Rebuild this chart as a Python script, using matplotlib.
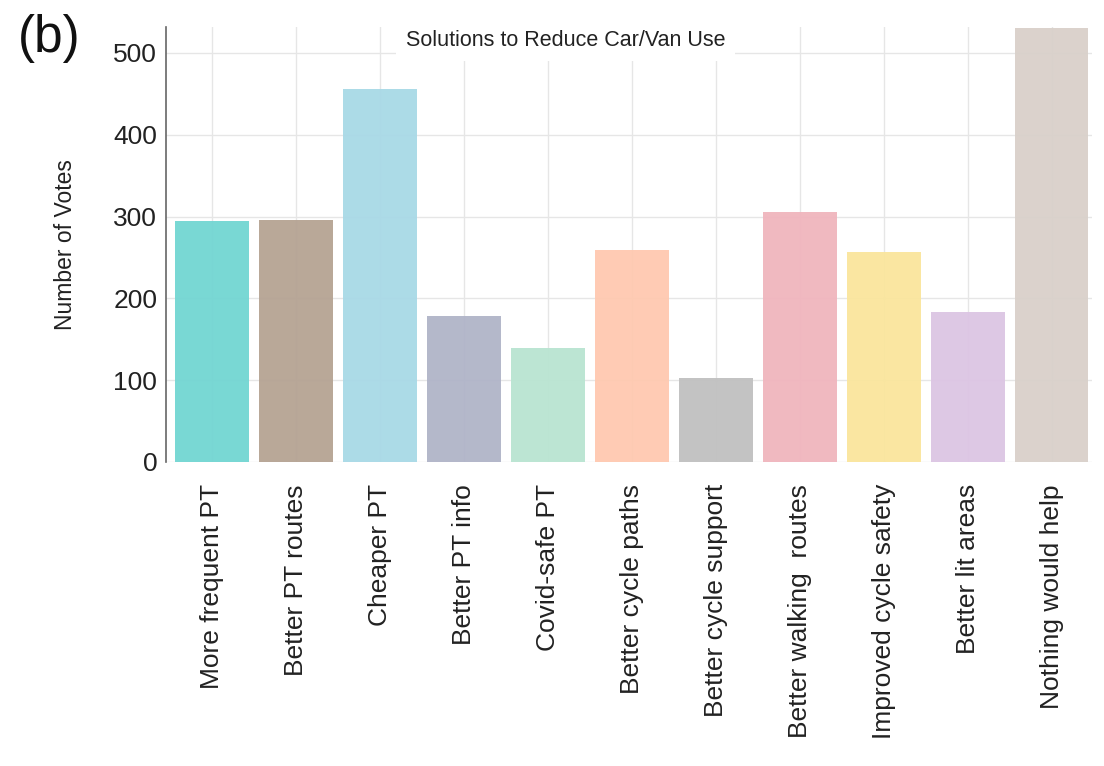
import matplotlib
matplotlib.use("Agg")
from matplotlib import pyplot as plt

# categories and vote counts
labels = ["More frequent PT", "Better PT routes", "Cheaper PT", "Better PT info",
          "Covid-safe PT", "Better cycle paths", "Better cycle support",
          "Better walking  routes", "Improved cycle safety", "Better lit areas",
          "Nothing would help"]
votes = [294, 296, 456, 178, 139, 259, 102, 305, 257, 183, 531]
colors = ["#72d6d2", "#b5a393", "#a8d9e6", "#b0b4c8", "#b9e4d1", "#ffc9b0",
          "#c0c0c0", "#f0b5bd", "#fae59c", "#dcc5e3", "#d9d0ca"]
yticks = [0, 100, 200, 300, 400, 500]

plt.rcParams['font.family'] = ['Liberation Sans', 'DejaVu Sans']

fig = plt.figure(figsize=(11.04, 7.66), dpi=100)
ax = fig.add_axes([0.150, 0.397, 0.839, 0.568])

x = list(range(len(labels)))
ax.bar(x, votes, width=0.88, color=colors, alpha=0.95, zorder=2)

ax.set_xlim(-0.55, len(labels) - 0.52)
ax.set_ylim(0, 532)
ax.set_yticks(yticks)
ax.set_xticks(x)
ax.set_xticklabels(labels, rotation=90, fontsize=19, color="#222222")
ax.tick_params(axis='y', labelsize=19, labelcolor="#222222", length=0, pad=6)
ax.tick_params(axis='x', length=0, pad=16)

ax.grid(True, color="#e6e6e6", linewidth=1.0, zorder=0)
ax.set_axisbelow(True)
for s in ["top", "right", "bottom"]:
    ax.spines[s].set_visible(False)
ax.spines["left"].set_color("#666666")
ax.spines["left"].set_linewidth(1.2)

ax.set_ylabel("Number of Votes", fontsize=16.5, color="#222222", labelpad=26)
ax.text(0.432, 0.992, "Solutions to Reduce Car/Van Use", transform=ax.transAxes,
        ha="center", va="top", fontsize=15.5, color="#222222", zorder=5,
        bbox=dict(facecolor="white", edgecolor="none", pad=7))

fig.text(0.016, 0.982, "(b)", fontsize=37, va="top", ha="left", color="#111111")

fig.savefig("out.png", dpi=100)
